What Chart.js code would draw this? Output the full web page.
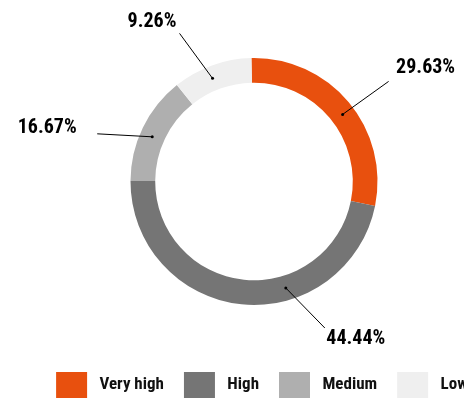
<!DOCTYPE html>
<html>
<head>
<meta charset="utf-8">
<script src="https://cdn.jsdelivr.net/npm/chart.js@4.4.1/dist/chart.umd.min.js"></script>
<style>
  html, body { margin: 0; padding: 0; overflow: hidden; background: #fff; }
  canvas { display: block; }
</style>
</head>
<body>
<canvas id="chart" width="524" height="408"></canvas>
<script>
const categories = ['Very high', 'High', 'Medium', 'Low']
// slice sizes as drawn in the picture (share of the ring, %)
const sliceShares = [28.5, 46.9, 14.2, 10.4]
// the printed labels
const percentLabels = ['29.63%', '44.44%', '16.67%', '9.26%']
const colors = ['#E8500E', '#757575', '#AFAFAF', '#EFEFEF']

const narrow = "'Liberation Sans Narrow', 'Roboto Condensed', Roboto, sans-serif"

// leader lines: t = where in the slice the line starts, dx/dy = line length,
// tx/ty = label centre relative to the line end
const leaders = [
  {t: 0.527, dx: 46, dy: -33, tx: 37, ty: -13},
  {t: 0.367, dx: 39, dy: 40, tx: 31, ty: 11},
  {t: 0.459, dx: -55, dy: -3, tx: -50, ty: -6},
  {t: 0.447, dx: -33, dy: -45, tx: -27.5, ty: -11.5}
]

const leaderLabels = {
  id: 'leaderLabels',
  afterDatasetsDraw(chart, args, opts) {
    const {ctx} = chart
    ctx.save()
    chart.getDatasetMeta(0).data.forEach((arc, i) => {
      const l = leaders[i]
      const {x, y, startAngle, endAngle, innerRadius, outerRadius} = arc.getProps(
        ['x', 'y', 'startAngle', 'endAngle', 'innerRadius', 'outerRadius'], true)
      const a = startAngle + l.t * (endAngle - startAngle)
      const r = (innerRadius + outerRadius) / 2
      const px = x + Math.cos(a) * r
      const py = y + Math.sin(a) * r
      const ex = px + l.dx
      const ey = py + l.dy
      ctx.strokeStyle = '#000'
      ctx.lineWidth = 1
      ctx.beginPath()
      ctx.moveTo(px, py)
      ctx.lineTo(ex, ey)
      ctx.stroke()
      ctx.fillStyle = '#000'
      ctx.beginPath()
      ctx.arc(px, py, 1.5, 0, Math.PI * 2)
      ctx.fill()
      ctx.font = opts.font
      ctx.textAlign = 'center'
      ctx.textBaseline = 'middle'
      ctx.fillText(percentLabels[i], ex + l.tx, ey + l.ty)
    })
    ctx.restore()
  }
}

new Chart(document.getElementById('chart'), {
  type: 'doughnut',
  data: {
    labels: categories,
    datasets: [{
      data: sliceShares,
      backgroundColor: colors,
      borderWidth: 0,
      hoverOffset: 0,
      radius: 123.5,
      cutout: '80%',
      rotation: -1.2
    }]
  },
  options: {
    responsive: false,
    animation: false,
    devicePixelRatio: 1,
    layout: {padding: {top: 11}},
    plugins: {
      tooltip: {enabled: false},
      // empty title on the right, only there to sit the ring a bit left of the legend centre
      title: {display: true, position: 'right', fullSize: false, text: '', padding: 2, font: {size: 10}},
      leaderLabels: {font: 'bold 20px ' + narrow},
      legend: {
        position: 'bottom',
        labels: {
          boxWidth: 31,
          boxHeight: 26,
          padding: 20,
          color: '#111',
          font: {family: narrow, size: 17, weight: 'bold'},
          generateLabels(chart) {
            return Chart.overrides.doughnut.plugins.legend.labels.generateLabels(chart)
              .map(item => ({...item, text: ' ' + item.text}))
          }
        }
      }
    }
  },
  plugins: [leaderLabels]
})
</script>
</body>
</html>
